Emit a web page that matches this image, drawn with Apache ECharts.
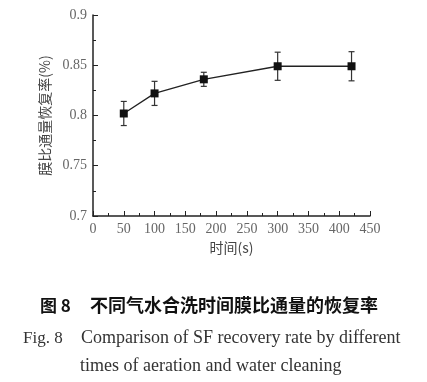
<!DOCTYPE html>
<html><head><meta charset="utf-8">
<script src="https://cdn.jsdelivr.net/npm/echarts@6/dist/echarts.min.js"></script>
<style>html,body{margin:0;padding:0;background:#fff}#c{width:427px;height:382px}</style>
</head><body><div id="c"></div>
<script>
const times = [50, 100, 180, 300, 420];
const recovery = [0.802, 0.822, 0.836, 0.849, 0.849];
const errors = [0.012, 0.012, 0.007, 0.014, 0.0145];
const xTicks = [0, 50, 100, 150, 200, 250, 300, 350, 400, 450];
const yTicks = [0.7, 0.75, 0.8, 0.85, 0.9];

const chart = echarts.init(document.getElementById('c'));
const serif = '"Liberation Serif","DejaVu Serif",serif';
const axisCommon = {
  axisLine: {show: true, lineStyle: {color: '#222', width: 1.5}},
  axisTick: {show: true, inside: true, length: 5, lineStyle: {color: '#222'}},
  minorTick: {show: true, splitNumber: 2, length: 3, lineStyle: {color: '#222'}},
  splitLine: {show: false},
  axisLabel: {color: '#666', fontFamily: serif, fontSize: 14}
};
chart.setOption({
  animation: false,
  grid: {left: 93, right: 57, top: 15, bottom: 166, containLabel: false},
  xAxis: Object.assign({}, axisCommon, {
    type: 'value', min: xTicks[0], max: xTicks[xTicks.length - 1], interval: 50,
    name: '时间(s)', nameLocation: 'middle', nameGap: 25,
    nameTextStyle: {color: '#444', fontFamily: '"Noto Sans CJK SC",' + serif, fontSize: 14},
    axisLabel: Object.assign({}, axisCommon.axisLabel, {margin: 6})
  }),
  yAxis: Object.assign({}, axisCommon, {
    type: 'value', min: yTicks[0], max: yTicks[yTicks.length - 1], interval: 0.05,
    name: '膜比通量恢复率(%)', nameLocation: 'middle', nameGap: 41, nameRotate: 90,
    nameTextStyle: {color: '#444', fontFamily: '"Noto Sans CJK SC",' + serif, fontSize: 14},
    axisLabel: Object.assign({}, axisCommon.axisLabel, {margin: 6})
  }),
  series: [
    {
      type: 'line',
      data: times.map((t, i) => [t, recovery[i]]),
      symbol: 'rect', symbolSize: 8,
      itemStyle: {color: '#111'},
      lineStyle: {color: '#222', width: 1.3},
      z: 3
    },
    {
      type: 'custom',
      data: times.map((t, i) => [t, recovery[i] - errors[i], recovery[i] + errors[i]]),
      renderItem: function (params, api) {
        const lo = api.coord([api.value(0), api.value(1)]);
        const hi = api.coord([api.value(0), api.value(2)]);
        const w = 3;
        const st = {stroke: '#333', lineWidth: 1.2};
        return {type: 'group', children: [
          {type: 'line', shape: {x1: lo[0], y1: lo[1], x2: hi[0], y2: hi[1]}, style: st},
          {type: 'line', shape: {x1: lo[0] - w, y1: lo[1], x2: lo[0] + w, y2: lo[1]}, style: st},
          {type: 'line', shape: {x1: hi[0] - w, y1: hi[1], x2: hi[0] + w, y2: hi[1]}, style: st}
        ]};
      },
      z: 2
    }
  ],
  graphic: [
    {type: 'text', left: 40, top: 297, style: {text: '图 8', font: 'bold 17px "Noto Sans CJK SC"', fill: '#111'}},
    {type: 'text', left: 90, top: 296, style: {text: '不同气水合洗时间膜比通量的恢复率', font: 'bold 18px "Noto Sans CJK SC"', fill: '#111'}},
    {type: 'text', left: 23, top: 330, style: {text: 'Fig. 8', font: '17px "Liberation Serif"', fill: '#333'}},
    {type: 'text', left: 81, top: 329, style: {text: 'Comparison of SF recovery rate by different', font: '18px "Liberation Serif"', fill: '#333'}},
    {type: 'text', left: 80, top: 357, style: {text: 'times of aeration and water cleaning', font: '18px "Liberation Serif"', fill: '#333'}}
  ]
});
</script></body></html>
